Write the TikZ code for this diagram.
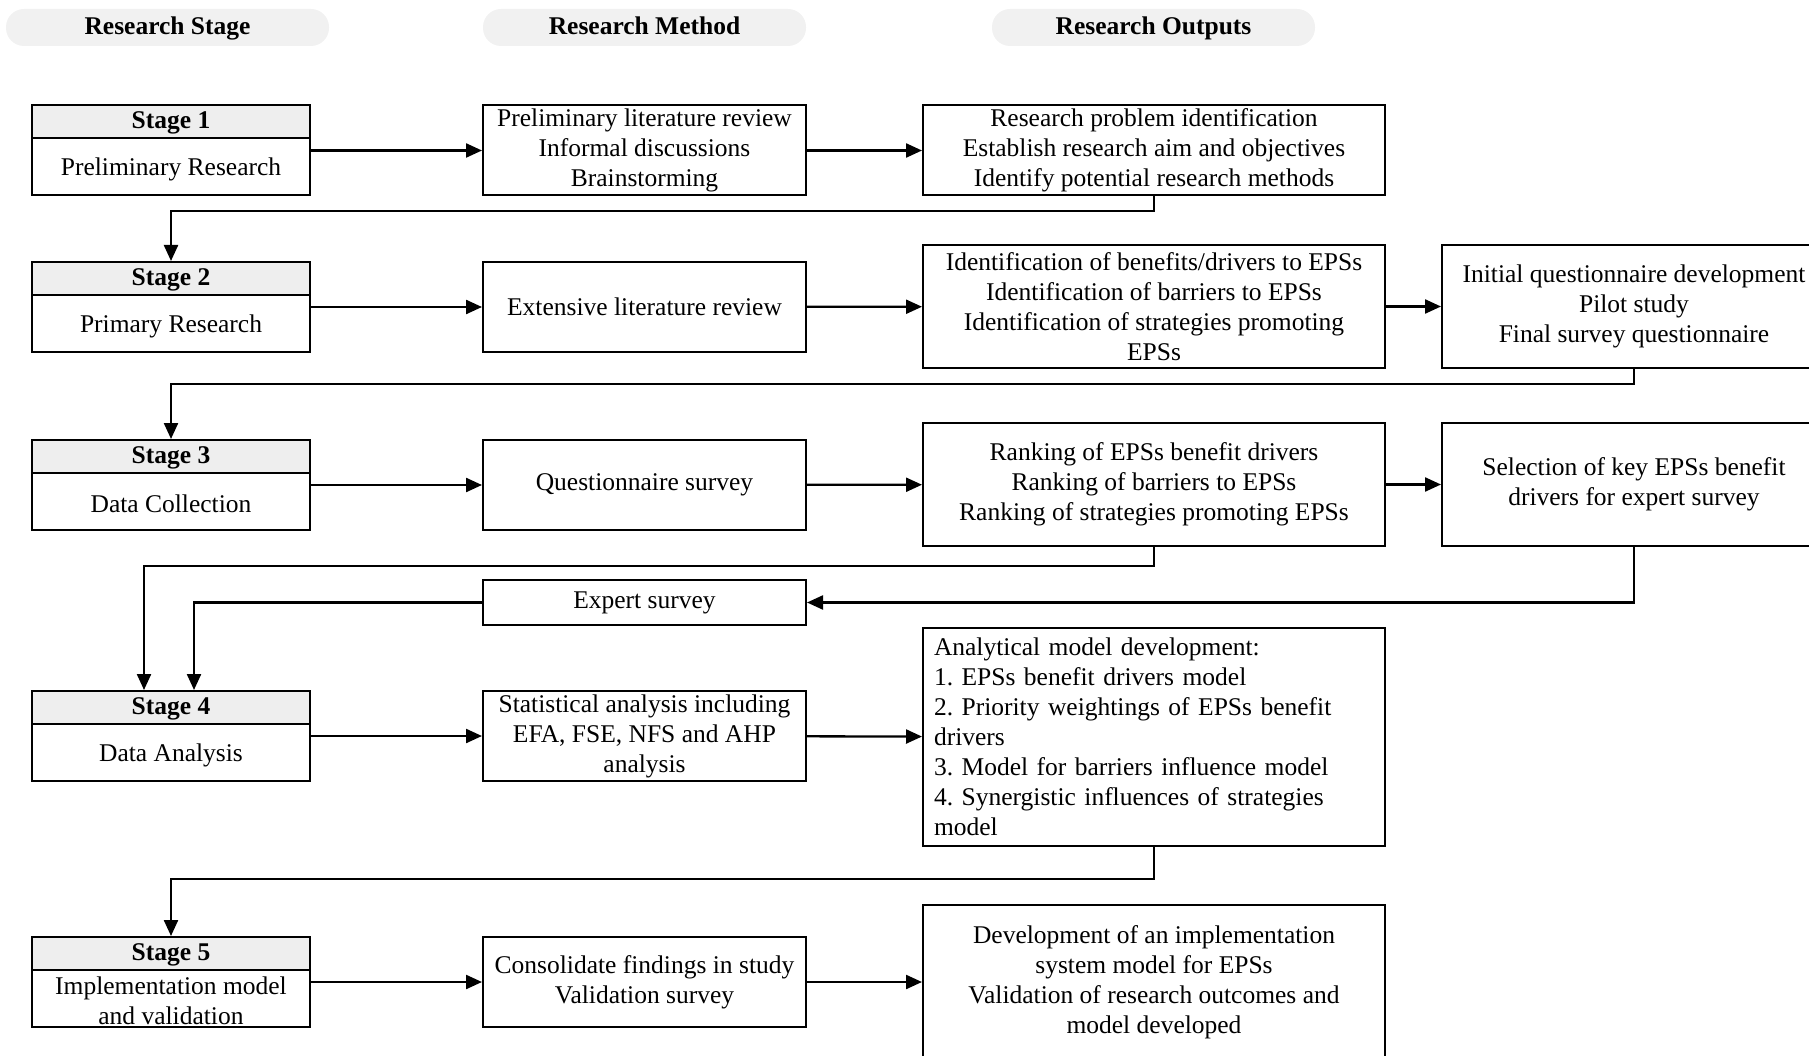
\documentclass[tikz,border=0pt]{standalone}
\usepackage{fontspec}
\setmainfont{Liberation Serif}
\usetikzlibrary{arrows.meta,calc}
\definecolor{pillgray}{HTML}{F1F1F1}
\definecolor{headgray}{HTML}{EEEEEE}
\newcommand{\bodyfont}{\fontsize{25.5}{30}\selectfont\frenchspacing}
\begin{document}
\begin{tikzpicture}[x=1pt,y=-1pt,
  every node/.style={font=\bodyfont, inner sep=0pt},
  pill/.style={fill=pillgray, rounded corners=18pt, minimum width=323pt,
    minimum height=37pt, text height=16pt, text depth=2pt, font=\bodyfont\bfseries},
  box/.style={draw, line width=2pt, align=center, minimum width=323pt},
  outbox/.style={draw, line width=2pt, align=center, minimum width=462pt},
  sidebox/.style={draw, line width=2pt, align=center, minimum width=384pt},
  stagebox/.style={draw, line width=2pt, minimum width=278pt, minimum height=90pt},
  stagehead/.style={draw, fill=headgray, line width=2pt, minimum width=278pt,
    minimum height=33pt, text height=16pt, text depth=2pt, anchor=north,
    font=\bodyfont\bfseries},
  arr/.style={-{Triangle[length=16pt,width=14pt]}, line width=2.3pt},
  link/.style={line width=2.3pt}
]
\useasboundingbox (0,0) rectangle (1809,1056);
\clip (0,0) rectangle (1809,1056);

% column headers
\node[pill] (hStage)  at (167.5,27.5)  {Research Stage};
\node[pill] (hMethod) at (644.5,27.5)  {Research Method};
\node[pill] (hOut)    at (1153.5,27.5) {Research Outputs};

% stage boxes: outline, grey title strip, description
\newcommand{\stage}[4]{%
  \node[stagebox] (#1) at (171,#2) {};
  \node[stagehead] (#1h) at (#1.north) {#3};
  \node[align=center] (#1b) at ($(#1h.south)!0.5!(#1.south)+(0,1.5)$) {#4};
}
\stage{s1}{150.5}{Stage 1}{Preliminary Research}
\stage{s2}{307}{Stage 2}{Primary Research}
\stage{s3}{485}{Stage 3}{Data Collection}
\stage{s4}{736}{Stage 4}{Data Analysis}
\stage{s5}{982}{Stage 5}{Implementation model\\and validation}

% research methods
\node[box, minimum height=90pt] (m1) at (644.5,150.5)
  {Preliminary literature review\\Informal discussions\\Brainstorming};
\node[box, minimum height=90pt] (m2) at (644.5,307) {Extensive literature review};
\node[box, minimum height=90pt] (m3) at (644.5,485) {Questionnaire survey};
\node[box, minimum height=45pt] (ex) at (644.5,602.5) {Expert survey};
\node[box, minimum height=90pt] (m4) at (644.5,736)
  {Statistical analysis including\\EFA, FSE, NFS and AHP\\analysis};
\node[box, minimum height=90pt] (m5) at (644.5,982)
  {Consolidate findings in study\\Validation survey};

% research outputs
\node[outbox, minimum height=90pt] (o1) at (1154,150.5)
  {Research problem identification\\Establish research aim and objectives\\Identify potential research methods};
\node[outbox, minimum height=123pt] (o2) at (1154,306.5)
  {Identification of benefits/drivers to EPSs\\Identification of barriers to EPSs\\Identification of strategies promoting\\EPSs};
\node[outbox, minimum height=123pt] (o3) at (1154,484.5)
  {Ranking of EPSs benefit drivers\\Ranking of barriers to EPSs\\Ranking of strategies promoting EPSs};
\node[draw, line width=2pt, align=left, text width=440pt, inner xsep=11pt,
  minimum height=218pt] (o4) at (1154,737)
  {Analytical model development:\\1. EPSs benefit drivers model\\2. Priority weightings of EPSs benefit\\drivers\\3. Model for barriers influence model\\4. Synergistic influences of strategies\\model};
\node[outbox, minimum height=154pt] (o5) at (1154,982)
  {Development of an implementation\\system model for EPSs\\Validation of research outcomes and\\model developed};

% further outputs
\node[sidebox, minimum height=123pt] (r2) at (1634,306.5)
  {Initial questionnaire development\\Pilot study\\Final survey questionnaire};
\node[sidebox, minimum height=123pt] (r3) at (1634,484.5)
  {Selection of key EPSs benefit\\drivers for expert survey};

% horizontal flow
\draw[arr] (s1) -- (m1);
\draw[arr] (m1) -- (o1);
\draw[arr] (s2) -- (m2);
\draw[arr] (m2) -- (o2);
\draw[arr] (o2) -- (r2);
\draw[arr] (s3) -- (m3);
\draw[arr] (m3) -- (o3);
\draw[arr] (o3) -- (r3);
\draw[arr] (s4) -- (m4);
\draw[arr] (m4) -- (o4);
\draw[arr] (s5) -- (m5);
\draw[arr] (m5) -- (o5);

% return paths to the next stage
\coordinate (y1) at (0,211);
\coordinate (y2) at (0,384);
\coordinate (y3) at (0,566);
\coordinate (y4) at (0,879);
\coordinate (s4l) at ($(s4.north)+(-27,0)$);
\coordinate (s4r) at ($(s4.north)+(23,0)$);
\draw[arr] (o1.south) -- (o1.south |- y1) -| (s1.north |- y1) -- (s2.north);
\draw[arr] (r2.south) -- (r2.south |- y2) -| (s2.north |- y2) -- (s3.north);
\draw[arr] (o3.south) -- (o3.south |- y3) -| (s4l);
\draw[arr] (r3.south) |- (ex.east);
\draw[arr] (ex.west) -| (s4r);
\draw[arr] (o4.south) -- (o4.south |- y4) -| (s4.north |- y4) -- (s5.north);
\end{tikzpicture}
\end{document}
